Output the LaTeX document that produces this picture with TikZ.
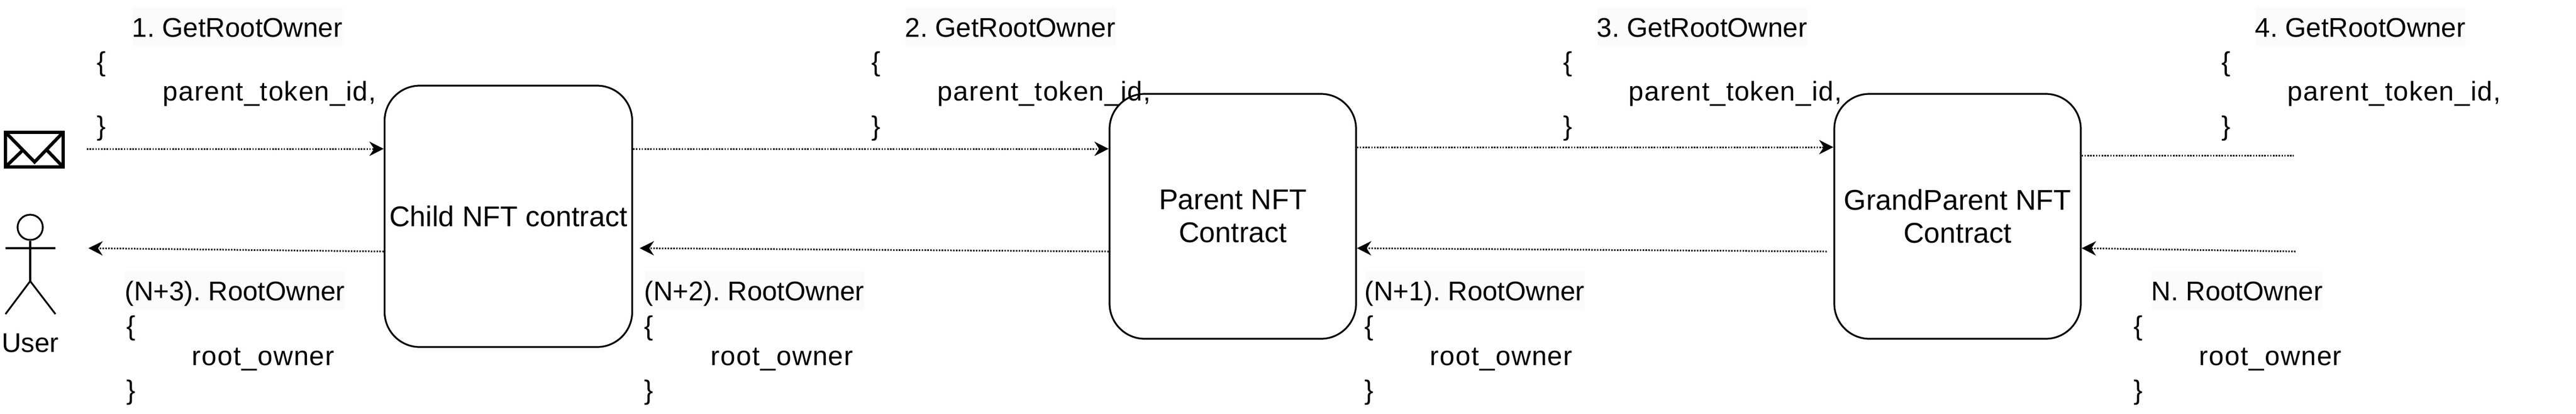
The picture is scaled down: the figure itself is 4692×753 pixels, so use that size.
\documentclass[tikz,border=0pt]{standalone}
\usepackage{fontspec}
\setmainfont{Liberation Sans}
\usetikzlibrary{arrows.meta}
\definecolor{labelbg}{HTML}{FBFBFB}
\newfontfamily\argfont[LetterSpace=3]{Liberation Sans}
\frenchspacing
\tikzset{
  contract/.style={draw,line width=0.8pt,rounded corners=16pt,inner sep=0pt,align=center,font=\fontsize{13}{15}\selectfont},
  msgtext/.style={anchor=west,inner sep=0pt,text height=10.5pt,text depth=1.5pt,font=\fontsize{12.3}{14}\selectfont},
  msgarg/.style={msgtext,font=\fontsize{12.3}{14}\argfont},
  msgtitle/.style={msgtext,fill=labelbg,minimum height=17.5pt},
  callend/.style={line width=0.75pt,dash pattern=on 0.65pt off 0.65pt},
  call/.style={callend,-{Stealth[length=6.5pt,width=6.5pt]}}
}
\begin{document}
\begin{tikzpicture}[x=0.25pt,y=-0.25pt]
  \useasboundingbox (0,0) rectangle (4692,753);
  \node[contract,minimum width=112.75pt,minimum height=119pt] (child) at (926,394) {Child NFT contract};
  \node[contract,minimum width=112.25pt,minimum height=111.5pt] (parent) at (2245.5,394) {Parent NFT\\Contract};
  \node[contract,minimum width=112.25pt,minimum height=111.5pt] (grand) at (3565.5,394) {GrandParent NFT\\Contract};
  % requests
  \foreach \n/\t/\tx/\bx/\px in {
    1/1/240/176/296, 2/2/1648/1587/1707,
    3/3/2908/2847/2966, 4/4/4107/4046/4166
  }{
    \node[msgtitle] (gettitle\n) at (\tx,49) {\t. GetRootOwner};
    \node[msgtext] (getopen\n) at (\bx,111) {\{};
    \node[msgarg] (getarg\n) at (\px,165) {parent\_token\_id,};
    \node[msgtext] (getclose\n) at (\bx,228) {\}};
  }
  % replies
  \foreach \n/\t/\tx/\bx/\px in {
    1/(N+3)/227/230/349, 2/(N+2)/1173/1173/1294,
    3/(N+1)/2485/2485/2604, 4/N/3918/3886/4005
  }{
    \node[msgtitle] (owntitle\n) at (\tx,529) {\t. RootOwner};
    \node[msgtext] (ownopen\n) at (\bx,592) {\{};
    \node[msgarg] (ownarg\n) at (\px,647) {root\_owner};
    \node[msgtext] (ownclose\n) at (\bx,709) {\}};
  }
  % envelope
  \node[draw,line width=1.5pt,minimum width=26.25pt,minimum height=15.75pt,inner sep=0pt,outer sep=0pt] (mail) at (62.5,272.5) {};
  \draw[line width=1.5pt] (mail.north west) -- (63,295) -- (mail.north east);
  \draw[line width=1.5pt] (mail.south west) -- (42,273);
  \draw[line width=1.5pt] (mail.south east) -- (85,273);
  % user
  \node[draw,line width=0.8pt,circle,minimum size=11.5pt,inner sep=0pt] (head) at (55,414) {};
  \coordinate (hip) at (55,512);
  \draw[line width=0.8pt] (head) -- (hip);
  \draw[line width=0.8pt] (10,452) -- (101,452);
  \draw[line width=0.8pt] (10,572) -- (hip) -- (101,572);
  \node[inner sep=0pt,font=\fontsize{12.3}{14}\selectfont] (user) at (55,625) {User};
  % free ends
  \coordinate (mailout) at (158,271);
  \coordinate (userin) at (161,452);
  \coordinate (farout) at (4178,283);
  \coordinate (farin) at (4181,458);
  % calls
  \draw[call] (mailout) -- (child.west |- 0,271);
  \draw[call] (child.east |- 0,271) -- (parent.west |- 0,271);
  \draw[call] (parent.east |- 0,268) -- (grand.west |- 0,268);
  \draw[callend] (grand.east |- 0,283) -- (farout);
  \draw[call] (farin) -- (grand.east |- 0,452);
  \draw[call] ([xshift=-3pt]grand.west |- 0,458) -- (parent.east |- 0,452);
  \draw[call] (parent.west |- 0,458) -- ([xshift=3pt]child.east |- 0,452);
  \draw[call] (child.west |- 0,458) -- (userin);
\end{tikzpicture}
\end{document}
